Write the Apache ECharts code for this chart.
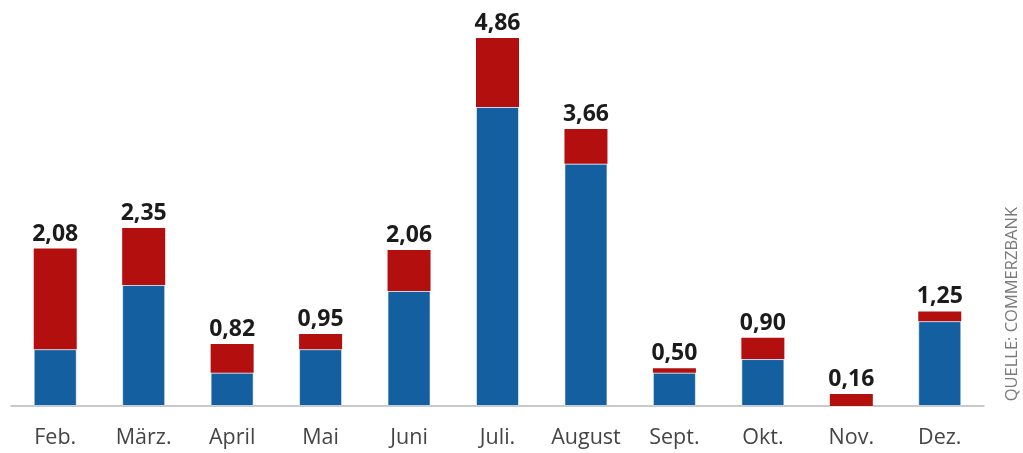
<!DOCTYPE html>
<html>
<head>
<meta charset="utf-8">
<script src="https://cdn.jsdelivr.net/npm/echarts@6/dist/echarts.min.js"></script>
<style>
  html, body { margin: 0; padding: 0; background: #fff; }
  #chart { width: 1023px; height: 453px; }
</style>
</head>
<body>
<div id="chart"></div>
<script>
// Monatswerte (Mrd.), unterer Teil blau, oberer Teil rot
const months = ['Feb.', 'März.', 'April', 'Mai', 'Juni', 'Juli.', 'August', 'Sept.', 'Okt.', 'Nov.', 'Dez.'];
const blueValues = [0.75, 1.60, 0.44, 0.75, 1.52, 3.95, 3.20, 0.44, 0.62, 0.00, 1.12];
const redValues  = [1.33, 0.75, 0.38, 0.20, 0.54, 0.91, 0.46, 0.06, 0.28, 0.16, 0.13];
const sourceText = 'QUELLE: COMMERZBANK';

const fmt = v => v.toFixed(2).replace('.', ',');

const chart = echarts.init(document.getElementById('chart'), null, { renderer: 'canvas' });
chart.setOption({
  animation: false,
  backgroundColor: '#ffffff',
  grid: { left: 11, right: 39, top: 27.5, bottom: 47 },
  xAxis: {
    type: 'category',
    data: months,
    axisLine: { show: true, lineStyle: { color: '#b8b8b8', width: 1.5 } },
    axisTick: { show: false },
    axisLabel: {
      interval: 0,
      hideOverlap: false,
      margin: 21,
      color: '#454545',
      fontFamily: 'Open Sans',
      fontSize: 21.5
    }
  },
  yAxis: {
    type: 'value',
    min: 0,
    max: 5,
    show: false,
    splitLine: { show: false }
  },
  series: [
    {
      name: 'blau',
      type: 'bar',
      stack: 'gesamt',
      barWidth: 43,
      data: blueValues,
      itemStyle: { color: '#135f9f', borderColor: 'rgba(255,255,255,0.55)', borderWidth: 1 }
    },
    {
      name: 'rot',
      type: 'bar',
      stack: 'gesamt',
      barWidth: 43,
      data: redValues,
      itemStyle: { color: '#b30f0f' },
      label: {
        show: true,
        position: 'top',
        distance: 3,
        color: '#1b1b1b',
        fontFamily: 'Open Sans',
        fontWeight: 'bold',
        fontSize: 23,
        formatter: p => fmt(blueValues[p.dataIndex] + redValues[p.dataIndex])
      }
    }
  ],
  graphic: [
    {
      type: 'text',
      left: 1004,
      top: 207,
      rotation: Math.PI / 2,
      style: {
        text: sourceText,
        fill: '#7a7a7a',
        font: '16.5px "Open Sans"'
      }
    }
  ]
});
</script>
</body>
</html>
